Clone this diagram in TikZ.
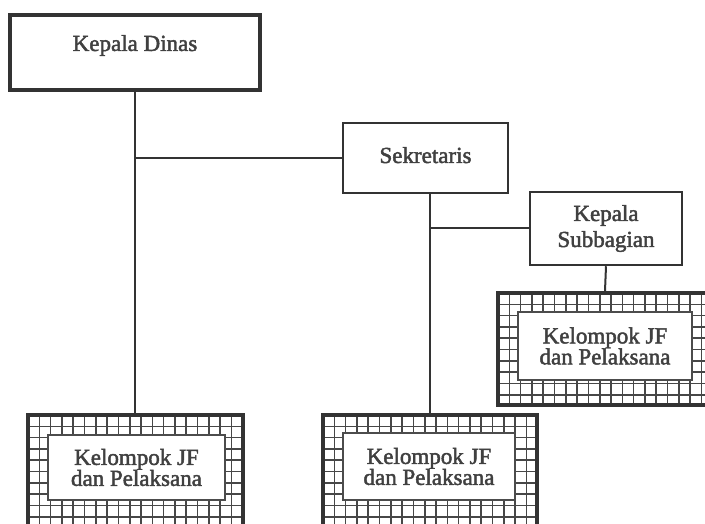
\documentclass[tikz,border=0pt]{standalone}
\usepackage{fontspec}
\setmainfont{Liberation Serif}
\newfontfamily\boxfont[FakeBold=2]{Liberation Serif}
\begin{document}
\begin{tikzpicture}[x=1pt,y=-1pt,
  ink/.style={draw=black!80},
  txt/.style={text=black!75, font=\boxfont\fontsize{23}{21}\selectfont, align=center},
  plainbox/.style={ink, line width=2.5pt, fill=white, inner sep=0pt, txt},
  headbox/.style={plainbox, line width=4pt},
  gridbox/.style={draw=black!80, line width=4pt, fill=white, inner sep=0pt,
    path picture={
      \foreach \i in {1,...,20}{
        \draw[black!72, line width=1.6pt]
          ([xshift=\i*11.3pt]path picture bounding box.north west) --
          ([xshift=\i*11.3pt]path picture bounding box.south west);}
      \foreach \j in {1,...,11}{
        \draw[black!72, line width=1.6pt]
          ([yshift=-\j*11.3pt]path picture bounding box.north west) --
          ([yshift=-\j*11.3pt]path picture bounding box.north east);}
    }},
  innerbox/.style={draw=black!70, line width=1.5pt, fill=white, inner sep=0pt, txt},
  conn/.style={draw=black!80, line width=2pt}]
\useasboundingbox (0,0) rectangle (705,524);
\clip (0,0) rectangle (705,524);
% boxes
\node[headbox, minimum width=250, minimum height=75] (kd) at (135,52.5) {\raisebox{19pt}{Kepala Dinas}};
\node[plainbox, minimum width=165, minimum height=70] (sek) at (425.5,158) {\raisebox{6pt}{Sekretaris}};
\node[plainbox, minimum width=152, minimum height=73,
  font=\boxfont\fontsize{23}{26}\selectfont] (ks) at (606,228.5) {Kepala\\Subbagian};
% hatched groups
\node[gridbox, minimum width=214, minimum height=112] (r) at (605,349) {};
\node[innerbox, minimum width=174, minimum height=68] (ri) at (605,346) {Kelompok JF\\dan Pelaksana};
\node[gridbox, minimum width=215, minimum height=120] (l) at (135.5,475) {};
\node[innerbox, minimum width=177, minimum height=65] (li) at (136.5,467.5) {Kelompok JF\\dan Pelaksana};
\node[gridbox, minimum width=214, minimum height=120] (m) at (430,475) {};
\node[innerbox, minimum width=172, minimum height=67] (mi) at (429,466.5) {Kelompok JF\\dan Pelaksana};
% connectors
\coordinate (kj) at (kd.south |- sek.west);
\coordinate (sj) at (sek.south -| m.north);
\coordinate (bj) at (ks.west -| m.north);
\draw[conn] (kd.south) -- (kd.south |- l.north);
\draw[conn] (kj) -- (sek.west);
\draw[conn] (sj) -- (m.north);
\draw[conn] (bj) -- (ks.west);
\draw[conn] (ks.south) -- (r.north);
\end{tikzpicture}
\end{document}
